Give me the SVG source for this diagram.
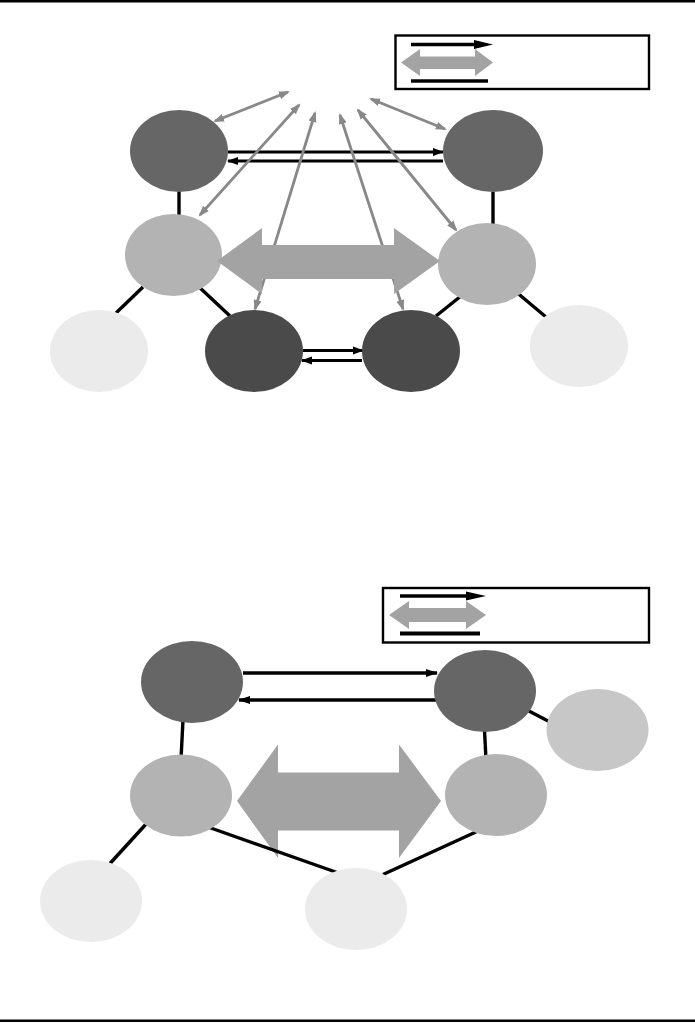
<svg xmlns="http://www.w3.org/2000/svg" width="695" height="1023" viewBox="0 0 695 1023">
<style>
.bg{fill:#ffffff}
.rule{stroke:#000;stroke-width:2.6}
.dark{fill:#666666}
.darker{fill:#4a4a4a}
.mid{fill:#b3b3b3}
.midlight{fill:#c7c7c7}
.pale{fill:#ebebeb}
.link{stroke:#000;stroke-width:3.4;fill:none}
.flow{stroke:#000;stroke-width:3;fill:none;marker-end:url(#blackHead)}
.flow2{stroke:#000;stroke-width:3.4;fill:none;marker-end:url(#blackHead2)}
.ray{stroke:#888888;stroke-width:2.8;fill:none;marker-start:url(#grayHead);marker-end:url(#grayHead)}
.big{fill:#a3a3a3}
.legendbox{fill:#fff;stroke:#000;stroke-width:2.4}
</style>
<defs>
<marker id="blackHead" markerUnits="userSpaceOnUse" markerWidth="12" markerHeight="10" viewBox="0 0 12 10" refX="10" refY="5" orient="auto">
<path d="M0,1 L11,5 L0,9 Z" fill="#000"/>
</marker>
<marker id="blackHead2" markerUnits="userSpaceOnUse" markerWidth="13" markerHeight="11" viewBox="0 0 13 11" refX="11" refY="5.5" orient="auto">
<path d="M0,1.5 L12,5.5 L0,9.5 Z" fill="#000"/>
</marker>
<marker id="grayHead" markerUnits="userSpaceOnUse" markerWidth="12" markerHeight="10" viewBox="0 0 12 10" refX="9" refY="5" orient="auto-start-reverse">
<path d="M0,1 L11,5 L0,9 Z" fill="#888888"/>
</marker>
</defs>
<rect class="bg" x="0" y="0" width="695" height="1023"/>
<line class="rule" x1="0" y1="1.2" x2="695" y2="1.2"/>
<line class="rule" x1="0" y1="1020.8" x2="695" y2="1020.8"/>

<!-- Top diagram legend -->
<g id="legend-top">
<rect class="legendbox" x="395.5" y="35.5" width="253.5" height="53.5"/>
<line x1="411" y1="44.5" x2="476" y2="44.5" stroke="#000" stroke-width="3.4"/>
<polygon points="474,40 493,44.5 474,49" fill="#000"/>
<polygon class="big" points="401,62.5 420,49 420,56.5 475,56.5 475,49 493,62.5 475,76 475,69 420,69 420,76"/>
<line x1="411" y1="81" x2="488" y2="81" stroke="#000" stroke-width="3.6"/>
</g>

<!-- Top diagram connectors -->
<g id="connectors-top">
<line class="link" x1="179" y1="191" x2="179" y2="215"/>
<line class="link" x1="493" y1="192" x2="493" y2="224"/>
<line class="link" x1="143" y1="287" x2="116" y2="313"/>
<line class="link" x1="198" y1="286" x2="230" y2="316"/>
<line class="link" x1="461" y1="296" x2="436" y2="316"/>
<line class="link" x1="515" y1="291" x2="546" y2="317"/>
<line class="flow" x1="228" y1="152" x2="443" y2="152"/>
<line class="flow" x1="443" y1="161" x2="228" y2="161"/>
<line class="flow" x1="303" y1="350.5" x2="363" y2="350.5"/>
<line class="flow" x1="362" y1="360.5" x2="302" y2="360.5"/>
<line class="ray" x1="215" y1="121" x2="288" y2="92"/>
<line class="ray" x1="200" y1="215" x2="299" y2="105"/>
<line class="ray" x1="255" y1="309" x2="315" y2="113"/>
<line class="ray" x1="403" y1="309" x2="340" y2="115"/>
<line class="ray" x1="456" y1="230" x2="358" y2="110"/>
<line class="ray" x1="445" y1="129" x2="371" y2="99"/>
</g>

<!-- Top diagram nodes -->
<g id="node-top-tl"><ellipse class="dark" cx="179" cy="151" rx="49" ry="41"/></g>
<g id="node-top-tr"><ellipse class="dark" cx="493" cy="151" rx="50" ry="41"/></g>
<g id="node-top-ml"><ellipse class="mid" cx="173.5" cy="255" rx="48.5" ry="41"/></g>
<g id="node-top-mr"><ellipse class="mid" cx="487" cy="264" rx="49" ry="41"/></g>
<g id="node-top-bl"><ellipse class="darker" cx="254" cy="351" rx="49" ry="41"/></g>
<g id="node-top-br"><ellipse class="darker" cx="411" cy="351" rx="49" ry="41"/></g>
<g id="node-top-fl"><ellipse class="pale" cx="99" cy="351" rx="49" ry="41"/></g>
<g id="node-top-fr"><ellipse class="pale" cx="579" cy="346" rx="49" ry="41"/></g>

<g id="connector-top-big">
<polygon class="big" points="217,261 262,228 262,245 394,245 394,228 440,261 394,294 394,279 262,279 262,294"/>
</g>

<!-- Bottom diagram legend -->
<g id="legend-bottom">
<rect class="legendbox" x="383" y="588" width="266" height="54.5"/>
<line x1="400" y1="596" x2="468" y2="596" stroke="#000" stroke-width="3.4"/>
<polygon points="466,591.5 486,596 466,600.5" fill="#000"/>
<polygon class="big" points="389,615 409,601 409,608 466,608 466,601 486,615 466,629 466,622 409,622 409,629"/>
<line x1="400" y1="633.5" x2="480" y2="633.5" stroke="#000" stroke-width="4"/>
</g>

<g id="connector-bottom-big">
<polygon class="big" points="237,801 278,744.5 278,772.5 399,772.5 399,744.5 441,801 399,858 399,830.5 278,830.5 278,858"/>
</g>

<!-- Bottom diagram connectors -->
<g id="connectors-bottom">
<line class="link" x1="183" y1="720" x2="181" y2="759"/>
<line class="link" x1="484.5" y1="730" x2="486" y2="760"/>
<line class="link" x1="147" y1="823" x2="110" y2="863.5"/>
<line class="link" x1="208" y1="827" x2="337" y2="872.5"/>
<line class="link" x1="478" y1="831" x2="383" y2="874.5"/>
<line class="link" x1="526" y1="709.5" x2="549" y2="721.5"/>
<line class="flow2" x1="243" y1="673" x2="437" y2="673"/>
<line class="flow2" x1="436" y1="700" x2="239" y2="700"/>
</g>

<!-- Bottom diagram nodes -->
<g id="node-bot-tl"><ellipse class="dark" cx="192" cy="682" rx="51" ry="41"/></g>
<g id="node-bot-tr"><ellipse class="dark" cx="485" cy="691" rx="51" ry="41"/></g>
<g id="node-bot-fr"><ellipse class="midlight" cx="597.5" cy="730" rx="51" ry="41"/></g>
<g id="node-bot-ml"><ellipse class="mid" cx="181" cy="795.5" rx="51" ry="41"/></g>
<g id="node-bot-mr"><ellipse class="mid" cx="496" cy="795" rx="51" ry="41"/></g>
<g id="node-bot-fl"><ellipse class="pale" cx="91" cy="901" rx="51" ry="41"/></g>
<g id="node-bot-bc"><ellipse class="pale" cx="356" cy="909" rx="51" ry="41"/></g>
</svg>
